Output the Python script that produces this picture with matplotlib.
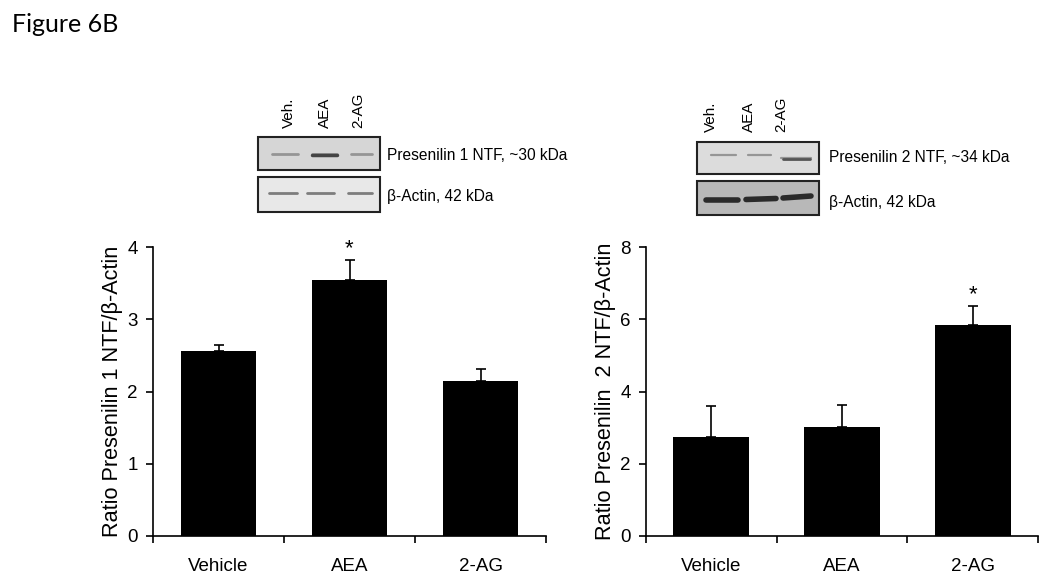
import matplotlib
matplotlib.use("Agg")
import matplotlib.pyplot as plt
from matplotlib.patches import Rectangle

plt.rcParams['font.family'] = ['Liberation Sans', 'DejaVu Sans']

categories = ["Vehicle", "AEA", "2-AG"]
ps1_means = [2.565, 3.54, 2.14]
ps1_err = [0.075, 0.28, 0.17]
ps2_means = [2.75, 3.02, 5.84]
ps2_err = [0.86, 0.61, 0.53]
lane_labels = ["Veh.", "AEA", "2-AG"]

W, H = 1050, 582
fig = plt.figure(figsize=(W / 100, H / 100), dpi=100)


def px_axes(x0, x1, y0, y1):
    return fig.add_axes([x0 / W, 1 - y1 / H, (x1 - x0) / W, (y1 - y0) / H])


def bar_panel(ax, means, errs, ymax, yticks, ylabel, star_idx):
    x = list(range(len(categories)))
    ax.bar(x, means, width=0.58, color='black', zorder=2)
    ax.errorbar(x, means, yerr=[[0] * len(errs), errs], fmt='none',
                ecolor='black', elinewidth=1.2, capsize=3.5, capthick=1.2, zorder=3)
    ax.set_xlim(-0.5, len(categories) - 0.5)
    ax.set_ylim(0, ymax)
    ax.set_yticks(yticks)
    ax.set_xticks(x)
    ax.set_xticklabels(categories, fontsize=13.5)
    ax.set_xticks([i + 0.5 for i in range(-1, len(categories))], minor=True)
    ax.tick_params(axis='x', which='major', length=0, pad=16)
    ax.tick_params(axis='x', which='minor', length=5, width=1.2, direction='out')
    ax.tick_params(axis='y', labelsize=13.5, length=5, width=1.2, direction='out', pad=6)
    for s in ['top', 'right']:
        ax.spines[s].set_visible(False)
    for s in ['left', 'bottom']:
        ax.spines[s].set_linewidth(1.2)
    ax.set_ylabel(ylabel, fontsize=15.6, labelpad=3)
    top = means[star_idx] + errs[star_idx]
    ax.text(star_idx, top + ymax * 0.003, "*", ha='center', va='bottom', fontsize=16)


ax1 = px_axes(153, 546, 247.3, 535.7)
bar_panel(ax1, ps1_means, ps1_err, 4, [0, 1, 2, 3, 4],
          "Ratio Presenilin 1 NTF/\u03b2-Actin", 1)

ax2 = px_axes(646, 1038, 247.3, 535.7)
bar_panel(ax2, ps2_means, ps2_err, 8, [0, 2, 4, 6, 8],
          "Ratio Presenilin  2 NTF/\u03b2-Actin", 2)

# overlay for title and blot panels
ov = fig.add_axes([0, 0, 1, 1], zorder=-1)
ov.set_xlim(0, W)
ov.set_ylim(H, 0)
ov.axis('off')

fig.text(12 / W, 1 - 25 / H, "Figure 6B", fontsize=18, family=['Lato', 'DejaVu Sans'],
         ha='left', va='center')


def blot(x0, x1, y0, y1, bg, bands, bcolor, bw):
    ov.add_patch(Rectangle((x0, y0), x1 - x0, y1 - y0, facecolor=bg,
                           edgecolor='#222222', linewidth=1.5))
    for (bx0, bx1, by0, by1) in bands:
        ov.plot([bx0, bx1], [by0, by1], color=bcolor, linewidth=bw,
                solid_capstyle='round', alpha=0.85)


# left blots
blot(258, 380, 137, 170, '#d6d6d6',
     [(272, 298, 154, 154), (312, 337, 154, 154), (351, 372, 153.5, 153.5)], '#8a8a8a', 2.0)
ov.plot([312, 337], [154.5, 154.5], color='#444444', linewidth=2.5, solid_capstyle='round')
blot(258, 380, 177, 212, '#e8e8e8',
     [(269, 297, 193, 193), (307, 334, 193, 193), (348, 372, 193, 193)], '#6a6a6a', 2.0)
ov.text(387, 155, "Presenilin 1 NTF, ~30 kDa", fontsize=11.2, ha='left', va='center')
ov.text(387, 197, "\u03b2-Actin, 42 kDa", fontsize=11.2, ha='left', va='center')
for lx, lab in zip([289, 325, 358], lane_labels):
    ov.text(lx, 128, lab, rotation=90, fontsize=11, ha='center', va='bottom')

# right blots
blot(697, 819, 142, 174, '#dcdcdc',
     [(711, 736, 155, 155), (748, 771, 155, 155), (781, 811, 158, 158)], '#8a8a8a', 1.6)
ov.plot([783, 810], [158.5, 158.5], color='#555555', linewidth=2.0, solid_capstyle='round')
blot(697, 819, 181, 215, '#b8b8b8',
     [(706, 738, 200, 200), (746, 776, 199.5, 198.5), (783, 811, 198, 196)], '#111111', 4.0)
ov.text(829, 158, "Presenilin 2 NTF, ~34 kDa", fontsize=11.2, ha='left', va='center')
ov.text(829, 203, "\u03b2-Actin, 42 kDa", fontsize=11.2, ha='left', va='center')
for lx, lab in zip([711, 749, 781], lane_labels):
    ov.text(lx, 132, lab, rotation=90, fontsize=11, ha='center', va='bottom')

fig.savefig("out.png", dpi=100)
